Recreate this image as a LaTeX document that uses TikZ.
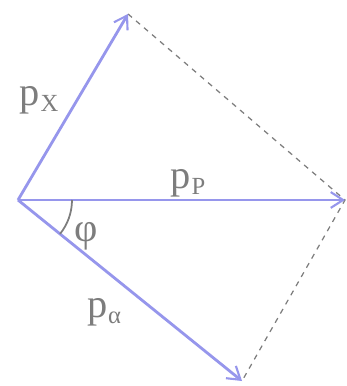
\documentclass[tikz,border=0pt]{standalone}
\usepackage{fontspec}
\usetikzlibrary{arrows.meta}
\newfontfamily\labfont{Liberation Serif}
\newcommand{\lowsub}[1]{\kern0.5pt\raisebox{-0.16em}{\fontsize{14}{16}\selectfont #1}}
\definecolor{vecblue}{RGB}{150,150,236}
\definecolor{labgray}{RGB}{125,125,125}
\tikzset{
	vec/.style={draw=vecblue, line width=1.6pt, -{Straight Barb[length=7pt,width=9pt,line width=1.2pt]}},
	helper/.style={draw=labgray, dashed, line width=0.7pt},
	lab/.style={text=labgray, font=\labfont\fontsize{23}{26}\selectfont}
}
\begin{document}
\begin{tikzpicture}
		\useasboundingbox (-0.36, -3.72) rectangle (6.58, 4.0);
		\coordinate (0) at (0, 0);
		\coordinate (1) at (2.2, 3.72);
		\coordinate (2) at (6.54, 0);
		\coordinate (3) at (4.48, -3.62);
		\draw[helper] (1) -- (2) -- (3);
		\draw[vec] (0) -- (1);
		\draw[vec] (0) -- (2);
		\draw[vec] (0) -- (3);
		\draw[draw=labgray, line width=1pt] (1.08, 0) arc (0:-38.9:1.08);
		\node [lab] (4) at (0.42, 2.0) {p\lowsub{X}};
		\node [lab] (5) at (3.4, 0.34) {p\lowsub{P}};
		\node [lab] (6) at (1.72, -2.24) {p\lowsub{α}};
		\node [lab] (7) at (1.36, -0.72) {φ};
	\end{tikzpicture}
\end{document}
